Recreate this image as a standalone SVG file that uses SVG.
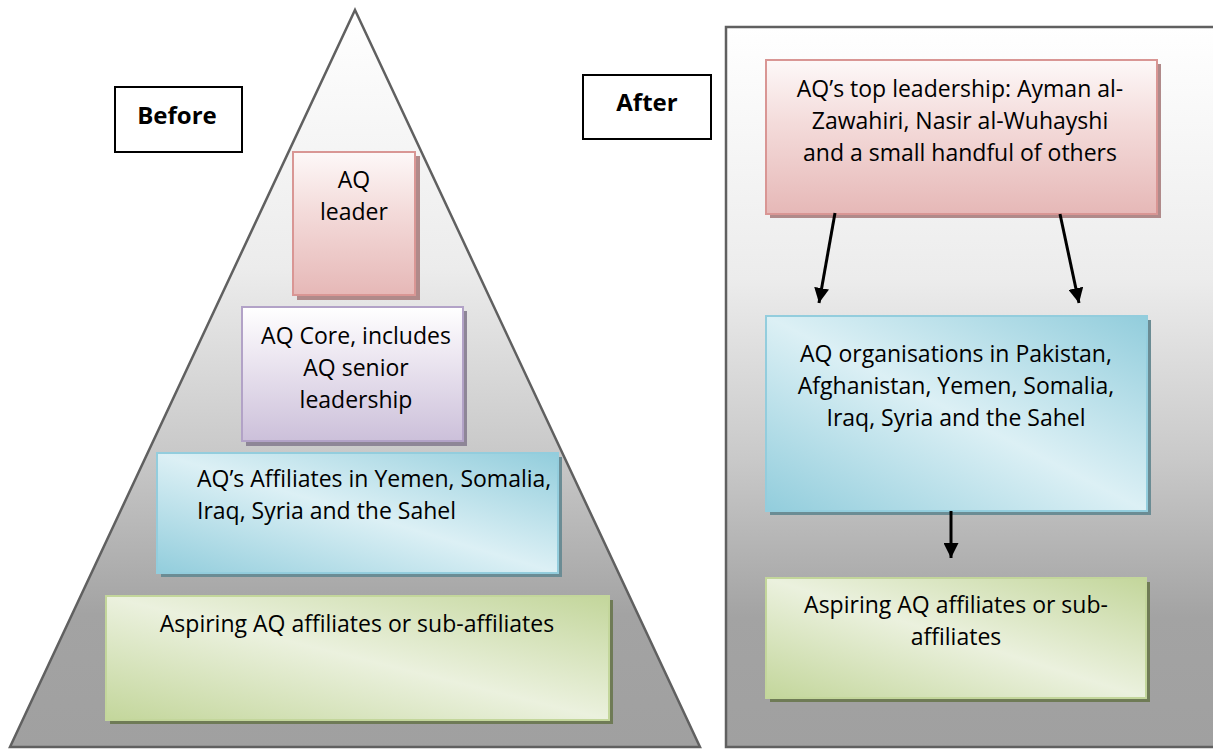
<svg xmlns="http://www.w3.org/2000/svg" width="1213" height="749" viewBox="0 0 1213 749">
<defs>
<linearGradient id="gGray" x1="0" y1="0" x2="0" y2="1">
<stop offset="0" stop-color="#ffffff"/>
<stop offset="0.35" stop-color="#ececec"/>
<stop offset="0.6" stop-color="#c9c9c9"/>
<stop offset="0.82" stop-color="#a3a3a3"/>
<stop offset="1" stop-color="#a0a0a0"/>
</linearGradient>
<linearGradient id="gPink" x1="0" y1="0" x2="0" y2="1">
<stop offset="0" stop-color="#fdf8f8"/>
<stop offset="0.4" stop-color="#f4dcdb"/>
<stop offset="1" stop-color="#e6b8b7"/>
</linearGradient>
<linearGradient id="gPurple" x1="0" y1="0" x2="0" y2="1">
<stop offset="0" stop-color="#ffffff"/>
<stop offset="0.4" stop-color="#ebe5f0"/>
<stop offset="1" stop-color="#ccc0da"/>
</linearGradient>
<linearGradient id="gBlue" x1="1" y1="0" x2="0" y2="1">
<stop offset="0" stop-color="#92cddc"/>
<stop offset="0.5" stop-color="#dcf0f5"/>
<stop offset="1" stop-color="#92cddc"/>
</linearGradient>
<linearGradient id="gGreen" x1="1" y1="0" x2="0" y2="1">
<stop offset="0" stop-color="#c3d69b"/>
<stop offset="0.5" stop-color="#ebf1de"/>
<stop offset="1" stop-color="#c3d69b"/>
</linearGradient>
<marker id="arr" viewBox="0 0 10 10" refX="10" refY="5" markerWidth="5" markerHeight="5" orient="auto" markerUnits="strokeWidth">
<path d="M0,0 L10,5 L0,10 z" fill="#000"/>
</marker>
<style>
.t{font-family:"Open Sans","Liberation Sans",sans-serif;font-size:23px;fill:#000}
.c{text-anchor:middle}
.b{font-weight:bold;font-size:24px}
.lbl{fill:#fff;stroke:#000;stroke-width:2}
.pink{fill:url(#gPink);stroke:#d99694;stroke-width:2}
.purple{fill:url(#gPurple);stroke:#b2a2c7;stroke-width:2}
.blue{fill:url(#gBlue);stroke:#93cddd;stroke-width:2}
.green{fill:url(#gGreen);stroke:#c3d69b;stroke-width:2}
.shp{fill:#b08a8a}
.shu{fill:#8e8697}
.shb{fill:#6b8c94}
.shg{fill:#6f7b56}
.con{stroke:#000;stroke-width:3;fill:none}
</style>
</defs>

<g id="before-pyramid">
<polygon points="355,10 700,747 10,747" fill="url(#gGray)" stroke="#606060" stroke-width="2.5"/>
</g>
<g id="after-panel">
<rect x="726" y="27" width="500" height="720" fill="url(#gGray)" stroke="#606060" stroke-width="2.5"/>
</g>

<g id="before-label">
<rect x="115" y="87" width="127" height="65" class="lbl"/>
<text x="177" y="124" class="t c b">Before</text>
</g>
<g id="after-label">
<rect x="583" y="75" width="128" height="64" class="lbl"/>
<text x="647" y="111" class="t c b">After</text>
</g>

<g id="aq-leader">
<rect x="297" y="156" width="123" height="144" class="shp"/>
<rect x="293" y="152" width="122" height="143" class="pink"/>
<text x="354" y="188" class="t c">AQ</text>
<text x="354" y="220" class="t c">leader</text>
</g>

<g id="aq-core">
<rect x="246" y="311" width="221" height="135" class="shu"/>
<rect x="242" y="307" width="221" height="134" class="purple"/>
<text x="356" y="344" class="t c">AQ Core, includes</text>
<text x="356" y="376" class="t c">AQ senior</text>
<text x="356" y="408" class="t c">leadership</text>
</g>

<g id="aq-affiliates">
<rect x="161" y="457" width="401" height="120" class="shb"/>
<rect x="157" y="453" width="401" height="120" class="blue"/>
<text x="197" y="487" class="t">AQ’s Affiliates in Yemen, Somalia,</text>
<text x="197" y="519" class="t">Iraq, Syria and the Sahel</text>
</g>

<g id="aspiring-before">
<rect x="110" y="600" width="503" height="124" class="shg"/>
<rect x="106" y="596" width="503" height="124" class="green"/>
<text x="357" y="632" class="t c">Aspiring AQ affiliates or sub-affiliates</text>
</g>

<g id="top-leadership">
<rect x="770" y="64" width="391" height="154" class="shp"/>
<rect x="766" y="60" width="391" height="154" class="pink"/>
<text x="960" y="97" class="t c">AQ’s top leadership: Ayman al-</text>
<text x="960" y="129" class="t c">Zawahiri, Nasir al-Wuhayshi</text>
<text x="960" y="161" class="t c">and a small handful of others</text>
</g>

<g id="aq-organisations">
<rect x="770" y="320" width="381" height="195" class="shb"/>
<rect x="766" y="316" width="381" height="195" class="blue"/>
<text x="956" y="362" class="t c">AQ organisations in Pakistan,</text>
<text x="956" y="394" class="t c">Afghanistan, Yemen, Somalia,</text>
<text x="956" y="426" class="t c">Iraq, Syria and the Sahel</text>
</g>

<g id="aspiring-after">
<rect x="770" y="582" width="380" height="120" class="shg"/>
<rect x="766" y="578" width="380" height="120" class="green"/>
<text x="956" y="613" class="t c">Aspiring AQ affiliates or sub-</text>
<text x="956" y="645" class="t c">affiliates</text>
</g>

<g id="connectors">
<line x1="835" y1="213" x2="819" y2="303" class="con" marker-end="url(#arr)"/>
<line x1="1060" y1="214" x2="1079" y2="303" class="con" marker-end="url(#arr)"/>
<line x1="951" y1="511" x2="951" y2="558" class="con" marker-end="url(#arr)"/>
</g>
</svg>
